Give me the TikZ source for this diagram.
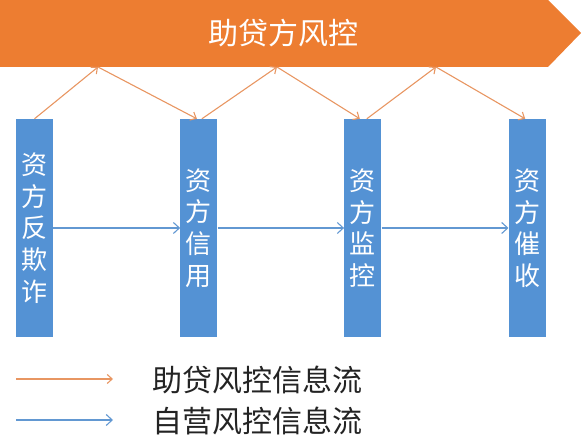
\documentclass[tikz,border=0pt]{standalone}
\usepackage{fontspec}
\usepackage{tikz}
\usetikzlibrary{arrows.meta, positioning}
\newfontfamily\cjk{Noto Sans CJK SC}
\definecolor{myorange}{RGB}{237,125,49}
\definecolor{myblue}{RGB}{84,146,212}
\definecolor{lineorange}{RGB}{232,150,98}
\definecolor{lineblue}{RGB}{98,152,210}
\definecolor{mytext}{RGB}{35,35,35}
\tikzset{
  stage/.style={rectangle, fill=myblue, text=white, inner sep=0pt,
    minimum width=37pt, minimum height=218pt, align=center,
    font=\cjk\fontsize{26}{31.6}\selectfont},
  orangearrow/.style={-{Straight Barb[length=5pt, width=9pt]}, line width=1.1pt, color=lineorange},
  bluearrow/.style={-{Straight Barb[length=6pt, width=11pt]}, line width=1.1pt, color=lineblue},
  legendtext/.style={anchor=west, inner sep=0pt, text=mytext,
    font=\cjk\fontsize{30}{31}\selectfont}
}
\begin{document}
\begin{tikzpicture}[x=1pt, y=1pt]
  \useasboundingbox (0,0) rectangle (582,446);

  % Banner arrow
  \fill[myorange] (0,446) -- (548,446) -- (581,413) -- (548,379) -- (0,379) -- cycle;
  \node[text=white, font=\cjk\fontsize{30}{32}\selectfont] (banner) at (283,413) {助贷方风控};

  % Stage boxes
  \node[stage] (fraud) at (34.5,218) {资\\方\\反\\欺\\诈};
  \node[stage, right=127pt of fraud] (credit) {资\\方\\信\\用};
  \node[stage, right=126.5pt of credit] (monitor) {资\\方\\监\\控};
  \node[stage, right=127pt of monitor] (collect) {资\\方\\催\\收};

  % Peaks on the banner edge
  \coordinate (pk1) at (98,379);
  \coordinate (pk2) at (277,379);
  \coordinate (pk3) at (436,379);

  % Zigzag (orange) flow
  \draw[orangearrow] (fraud.north) -- (pk1);
  \draw[orangearrow] (pk1) -- ([xshift=-2pt]credit.north);
  \draw[orangearrow] ([xshift=3pt]credit.north) -- (pk2);
  \draw[orangearrow] (pk2) -- ([xshift=-3pt]monitor.north);
  \draw[orangearrow] ([xshift=4pt]monitor.north) -- (pk3);
  \draw[orangearrow] (pk3) -- ([xshift=-2pt]collect.north);

  % Own (blue) flow
  \draw[bluearrow] (fraud.east) -- (credit.west);
  \draw[bluearrow] (credit.east) -- (monitor.west);
  \draw[bluearrow] (monitor.east) -- (collect.west);

  % Legend
  \coordinate (lgas) at (16,67);
  \coordinate (lgae) at (113,67);
  \coordinate (lgbs) at (16,26);
  \coordinate (lgbe) at (113,26);
  \draw[orangearrow] (lgas) -- (lgae);
  \draw[bluearrow] (lgbs) -- (lgbe);
  \node[legendtext] (lega) at (152,66) {助贷风控信息流};
  \node[legendtext] (legb) at (152,25) {自营风控信息流};
\end{tikzpicture}
\end{document}
